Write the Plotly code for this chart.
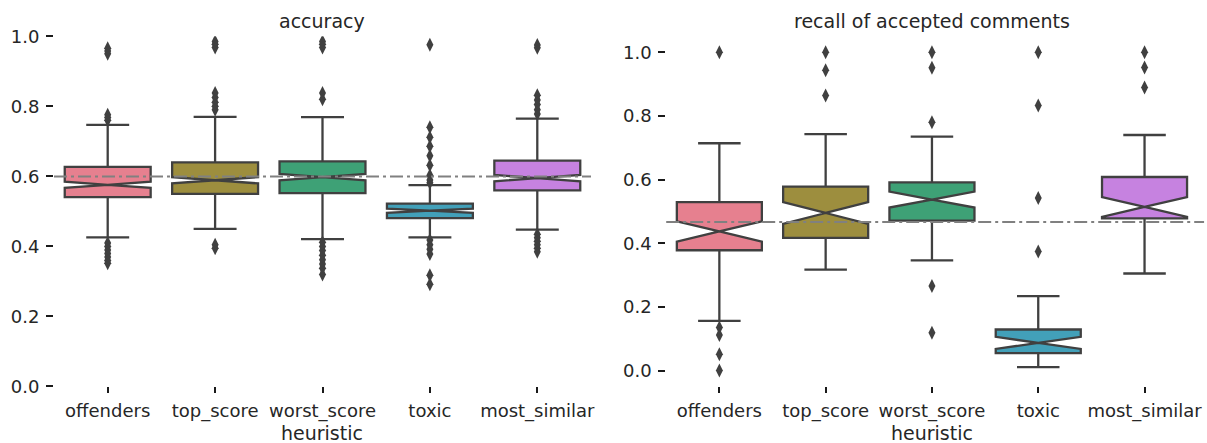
import plotly.graph_objects as go

categories = ["offenders", "top_score", "worst_score", "toxic", "most_similar"]
colors = ["#e6808f", "#9d8e3e", "#3ea176", "#42a0b9", "#c682e0"]

# accuracy panel
acc_q1 = [0.541, 0.550, 0.552, 0.481, 0.560]
acc_median = [0.576, 0.589, 0.598, 0.502, 0.595]
acc_q3 = [0.627, 0.640, 0.643, 0.522, 0.645]
acc_lower = [0.426, 0.450, 0.421, 0.426, 0.448]
acc_upper = [0.747, 0.770, 0.769, 0.575, 0.765]
acc_notch = [0.009, 0.009, 0.009, 0.006, 0.009]
acc_out_offenders = [0.966, 0.958, 0.950, 0.776, 0.768, 0.760, 0.410, 0.400, 0.390, 0.380, 0.370, 0.360, 0.352]
acc_out_top_score = [0.985, 0.977, 0.968, 0.838, 0.825, 0.812, 0.800, 0.790, 0.405, 0.395]
acc_out_worst_score = [0.985, 0.977, 0.968, 0.838, 0.820, 0.412, 0.400, 0.388, 0.375, 0.362, 0.350, 0.338, 0.320]
acc_out_toxic = [0.976, 0.740, 0.712, 0.686, 0.659, 0.632, 0.603, 0.590, 0.582, 0.418, 0.405, 0.392, 0.378, 0.318, 0.292]
acc_out_most_similar = [0.975, 0.967, 0.832, 0.818, 0.805, 0.790, 0.778, 0.435, 0.425, 0.415, 0.405, 0.395, 0.385]
acc_baseline = 0.6

# recall panel
rec_q1 = [0.378, 0.417, 0.471, 0.055, 0.478]
rec_median = [0.437, 0.495, 0.537, 0.087, 0.514]
rec_q3 = [0.529, 0.578, 0.591, 0.129, 0.608]
rec_lower = [0.156, 0.317, 0.346, 0.011, 0.305]
rec_upper = [0.714, 0.743, 0.735, 0.234, 0.740]
rec_notch = [0.032, 0.034, 0.025, 0.019, 0.031]
rec_out_offenders = [1.0, 0.135, 0.112, 0.051, 0.0]
rec_out_top_score = [1.0, 0.943, 0.864]
rec_out_worst_score = [1.0, 0.951, 0.780, 0.266, 0.119]
rec_out_toxic = [1.0, 0.833, 0.542, 0.374]
rec_out_most_similar = [1.0, 0.952, 0.889]
rec_baseline = 0.467

acc_outliers = [acc_out_offenders, acc_out_top_score, acc_out_worst_score, acc_out_toxic, acc_out_most_similar]
rec_outliers = [rec_out_offenders, rec_out_top_score, rec_out_worst_score, rec_out_toxic, rec_out_most_similar]

EDGE = "#404040"
TEXT = "#262626"
FONT = "DejaVu Sans"

fig = go.Figure()

def add_panel(q1, med, q3, lo, hi, notch, outliers, xa, ya):
    for i, cat in enumerate(categories):
        fig.add_trace(go.Box(
            x=[cat], q1=[q1[i]], median=[med[i]], q3=[q3[i]],
            lowerfence=[lo[i]], upperfence=[hi[i]], notchspan=[notch[i]],
            notched=True, notchwidth=0.5, width=0.8, whiskerwidth=0.5,
            fillcolor=colors[i], line=dict(color=EDGE, width=2.3),
            boxpoints=False, showlegend=False, hoverinfo="skip",
            xaxis=xa, yaxis=ya,
        ))
        fig.add_trace(go.Scatter(
            x=[cat] * len(outliers[i]), y=outliers[i], mode="markers",
            marker=dict(symbol="diamond-tall", size=10, color=EDGE, line=dict(width=0)),
            showlegend=False, hoverinfo="skip", xaxis=xa, yaxis=ya,
        ))

add_panel(acc_q1, acc_median, acc_q3, acc_lower, acc_upper, acc_notch, acc_outliers, "x", "y")
add_panel(rec_q1, rec_median, rec_q3, rec_lower, rec_upper, rec_notch, rec_outliers, "x2", "y2")

W, H = 1207, 443
ydom = [0.12754, 0.91806]
xaxis_common = dict(
    type="category", categoryorder="array", categoryarray=categories,
    range=[-0.5, 4.5], showgrid=False, zeroline=False, showline=False,
    ticks="outside", ticklen=6, tickwidth=2, tickcolor="#1a1a1a",
    ticklabelstandoff=2,
    tickfont=dict(family=FONT, size=18, color=TEXT), automargin=False,
)
yaxis_common = dict(
    showgrid=False, zeroline=False, showline=False,
    ticks="outside", ticklen=7, tickwidth=2, tickcolor="#1a1a1a",
    ticklabelstandoff=3,
    tickfont=dict(family=FONT, size=18, color=TEXT), tickformat=".1f",
    dtick=0.2, automargin=False,
)

fig.update_layout(
    width=W, height=H,
    margin=dict(l=0, r=0, t=0, b=0),
    paper_bgcolor="white", plot_bgcolor="white",
    boxmode="overlay",
    xaxis=dict(domain=[0.04474, 0.48964], anchor="y", **xaxis_common),
    yaxis=dict(domain=ydom, anchor="x", range=[0, 1.0], tick0=0, **yaxis_common),
    xaxis2=dict(domain=[0.55195, 0.99229], anchor="y2", **xaxis_common),
    yaxis2=dict(domain=ydom, anchor="x2", range=[-0.05, 1.05], tick0=0, **yaxis_common),
)

DASH = "13px,4px,3px,4px"
fig.add_shape(type="line", xref="x domain", yref="y", x0=0, x1=1,
              y0=acc_baseline, y1=acc_baseline, layer="above",
              line=dict(color="#808080", width=2, dash=DASH))
fig.add_shape(type="line", xref="x2 domain", yref="y2", x0=0, x1=1.012,
              y0=rec_baseline, y1=rec_baseline, layer="above",
              line=dict(color="#808080", width=2, dash=DASH))

annots = [
    dict(text="accuracy", x=0.26719, y=0.9526),
    dict(text="recall of accepted comments", x=0.77212, y=0.9526),
    dict(text="heuristic", x=0.26719, y=0.0226),
    dict(text="heuristic", x=0.77212, y=0.0226),
]
for a in annots:
    fig.add_annotation(text=a["text"], x=a["x"], y=a["y"], xref="paper", yref="paper",
                       xanchor="center", yanchor="middle", showarrow=False,
                       font=dict(family=FONT, size=19, color=TEXT))

fig.write_html(
    "out.html",
    config={"displayModeBar": False, "staticPlot": True},
    post_script="document.body.style.margin='0';document.body.style.overflow='hidden';",
)
